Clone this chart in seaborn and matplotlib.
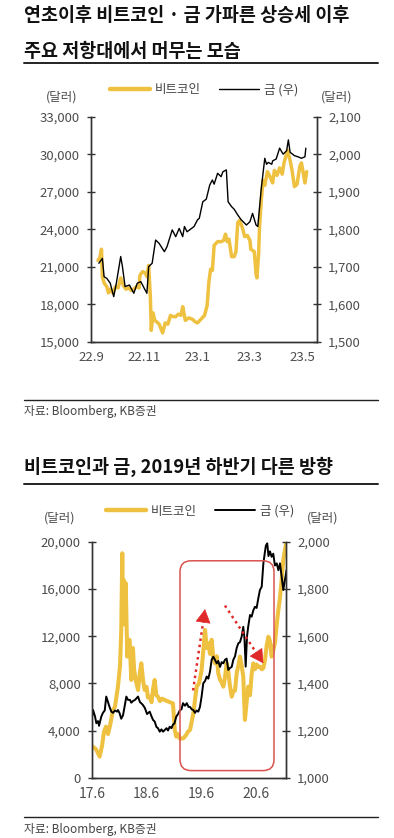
import numpy as np
import matplotlib
matplotlib.use("Agg")
import matplotlib.pyplot as plt
import matplotlib.dates as mdates
import pandas as pd
import seaborn as sns
from matplotlib.lines import Line2D
from matplotlib.patches import FancyBboxPatch, FancyArrowPatch

sns.set_style("white")
plt.rcParams["font.family"] = ["Noto Sans CJK KR", "DejaVu Sans"]

YELLOW = "#EFC140"
GREY = "#4d4d4d"
RED = "#E02A2A"

# ---------------- chart 1 data (days after 2022-09-01) ----------------
top_start = pd.Timestamp("2022-09-01")
top_btc_days = [8, 10, 12, 13, 15, 18, 20, 22, 25, 28, 31, 34, 37, 40, 43, 46, 49, 52, 55,
                56, 59, 62, 64, 66, 68, 69, 71, 73, 75, 78, 82, 85, 88, 91, 94, 97, 100,
                103, 105, 108, 112, 116, 119, 122, 126, 130, 133, 135, 137, 139, 141, 145,
                149, 152, 154, 156, 158, 161, 164, 166, 168, 170, 173, 176, 179, 182, 183,
                187, 189, 190, 192, 193, 195, 197, 199, 202, 205, 208, 210, 213, 216, 219,
                221, 223, 225, 228, 230, 233, 236, 239, 241, 243, 245, 247]
top_btc = [21500, 21700, 22400, 20200, 19700, 19400, 18900, 19200, 18900, 19400, 19300,
           20100, 19500, 19200, 19300, 19100, 19200, 19400, 19300, 20300, 20600, 20500,
           20200, 21100, 18500, 15900, 17300, 16700, 16600, 16400, 15700, 16500, 16400,
           17100, 17000, 17000, 17200, 17100, 17800, 16700, 16900, 16800, 16600, 16500,
           16800, 17100, 17900, 19800, 20800, 20700, 22700, 23000, 23000, 23100, 23600,
           23000, 23200, 21800, 21800, 22200, 24500, 24700, 24200, 23400, 23500, 23100,
           22400, 22200, 20400, 20100, 22100, 24200, 26300, 27900, 27500, 28600, 28200,
           27700, 28700, 28300, 28900, 28400, 29300, 29800, 30300, 29500, 28800, 27400,
           27600, 29000, 29300, 28500, 27700, 28600]

top_gold_days = [9, 13, 15, 18, 22, 26, 29, 34, 36, 39, 44, 49, 53, 57, 61, 64, 66, 70, 74,
                 78, 84, 87, 93, 97, 101, 105, 107, 110, 118, 122, 124, 128, 132, 136, 139,
                 141, 145, 149, 151, 155, 157, 161, 164, 168, 172, 178, 182, 185, 189, 191,
                 195, 199, 201, 203, 207, 208, 212, 216, 220, 224, 226, 228, 233, 237, 241,
                 245, 246]
top_gold = [1709, 1722, 1673, 1669, 1656, 1620, 1656, 1727, 1700, 1647, 1651, 1629, 1656,
            1660, 1642, 1629, 1700, 1709, 1771, 1762, 1740, 1753, 1798, 1780, 1802, 1780,
            1807, 1793, 1807, 1825, 1829, 1873, 1880, 1918, 1931, 1920, 1949, 1940, 1953,
            1958, 1873, 1860, 1853, 1838, 1825, 1811, 1820, 1842, 1811, 1807, 1909, 1989,
            1973, 1978, 1973, 1982, 1987, 2016, 2000, 2009, 2038, 2005, 1996, 1993, 1989,
            1993, 2016]

top_xticks = ["2022-09-01", "2022-11-01", "2023-01-01", "2023-03-01", "2023-05-01"]
top_xlabels = ["22.9", "22.11", "23.1", "23.3", "23.5"]

# ---------------- chart 2 data (days after 2017-06-01) ----------------
bot_start = pd.Timestamp("2017-06-01")
bot_btc_days = [7, 27, 51, 67, 80, 93, 107, 120, 140, 153, 173, 187, 195, 202, 207, 211,
                218, 225, 235, 243, 251, 262, 273, 281, 293, 307, 320, 329, 340, 351, 364,
                373, 385, 397, 407, 418, 429, 440, 453, 467, 485, 500, 520, 540, 552, 562,
                574, 587, 609, 627, 640, 654, 676, 698, 714, 731, 744, 754, 765, 776, 787,
                798, 809, 820, 832, 842, 854, 865, 876, 887, 898, 909, 920, 932, 942, 954,
                965, 976, 987, 998, 1009, 1020, 1032, 1042, 1054, 1065, 1076, 1087, 1098,
                1109, 1120, 1132, 1143, 1154, 1165, 1176, 1187, 1198, 1209, 1220, 1232,
                1243, 1254, 1265, 1276, 1287, 1297]
bot_btc = [2630, 2400, 1780, 2700, 3900, 4330, 3700, 4400, 5740, 6000, 7720, 9500, 12530,
           19040, 14000, 16780, 13000, 16500, 10270, 11700, 11680, 8290, 11000, 9140, 8200,
           7440, 9000, 9700, 8300, 7440, 7700, 6800, 6870, 6400, 7500, 8290, 7000, 6870,
           6500, 6700, 6590, 6500, 6400, 6300, 4050, 3480, 3700, 3300, 3340, 3600, 3900,
           4050, 5460, 7720, 8000, 9140, 11000, 12530, 11000, 11400, 10500, 11700, 10200,
           9700, 10300, 8860, 8300, 8100, 7720, 8500, 9700, 9000, 7800, 6870, 7300, 7400,
           8860, 9500, 10270, 9500, 8570, 4900, 6500, 7720, 7000, 8800, 9700, 9200, 9600,
           9400, 9420, 9200, 9300, 10000, 11200, 11960, 11600, 10270, 10800, 11400, 13000,
           14230, 15300, 16780, 18500, 19320, 20000]

bot_gold_days = [3, 7, 20, 29, 40, 47, 62, 73, 85, 95, 107, 117, 129, 140, 153, 167, 173,
                 183, 195, 207, 217, 229, 240, 253, 262, 273, 287, 307, 320, 330, 340, 353,
                 367, 385, 397, 407, 418, 430, 440, 452, 463, 474, 485, 497, 507, 518, 530,
                 540, 550, 562, 574, 587, 597, 607, 620, 632, 644, 654, 665, 676, 687, 698,
                 709, 720, 731, 742, 754, 765, 776, 787, 798, 809, 820, 832, 842, 854, 865,
                 876, 887, 898, 909, 920, 932, 942, 954, 965, 976, 987, 998, 1009, 1017, 1025,
                 1034, 1042, 1054, 1065, 1076, 1087, 1098, 1109, 1120, 1132, 1143, 1154, 1160,
                 1169, 1177, 1187, 1198, 1209, 1220, 1232, 1243, 1254, 1265, 1276, 1287, 1298]
bot_gold = [1265, 1287, 1260, 1231, 1240, 1220, 1259, 1275, 1285, 1344, 1320, 1300, 1280,
            1275, 1285, 1280, 1287, 1275, 1250, 1265, 1300, 1344, 1330, 1330, 1318, 1325,
            1330, 1344, 1320, 1315, 1308, 1295, 1270, 1280, 1260, 1245, 1238, 1215, 1210,
            1195, 1205, 1195, 1202, 1210, 1200, 1216, 1210, 1225, 1230, 1259, 1270, 1287,
            1290, 1316, 1305, 1316, 1300, 1300, 1290, 1287, 1275, 1285, 1280, 1300, 1344,
            1400, 1410, 1429, 1420, 1450, 1500, 1513, 1500, 1485, 1495, 1470, 1490, 1485,
            1500, 1505, 1457, 1465, 1470, 1499, 1515, 1550, 1570, 1575, 1598, 1640, 1590,
            1471, 1600, 1641, 1690, 1683, 1710, 1725, 1720, 1760, 1796, 1810, 1909, 1960,
            1985, 1994, 1940, 1960, 1937, 1950, 1900, 1909, 1880, 1909, 1853, 1796, 1840,
            1881]

bot_xticks = ["2017-06-01", "2018-06-01", "2019-06-01", "2020-06-01"]
bot_xlabels = ["17.6", "18.6", "19.6", "20.6"]

# highlight box and arrows (day offset, left-axis value)
box_x = [587, 1214]
box_y = [600, 18400]
arrow_up = [(674, 7400), (754, 14300)]
arrow_down = [(887, 14600), (1143, 9700)]


def to_dates(start, days):
    return start + pd.to_timedelta(days, unit="D")


def day_num(start, d):
    return mdates.date2num(start + pd.Timedelta(days=d))


def style_axes(ax, ax2):
    for a in (ax, ax2):
        a.spines["top"].set_visible(False)
        for s in ("left", "right", "bottom"):
            a.spines[s].set_color("#333333")
            a.spines[s].set_linewidth(1.0)
        a.set_xlabel("")
        a.set_ylabel("")
        a.grid(False)
    for a in (ax, ax2):
        a.tick_params(axis="y", direction="inout", length=6, width=1, color="#333333",
                      labelsize=9.5, labelcolor=GREY, pad=5)
    ax.tick_params(axis="x", direction="in", length=5, width=1, color="#333333",
                   labelsize=9.5, labelcolor=GREY, pad=7)


fig = plt.figure(figsize=(3.94, 8.38), dpi=100)

# ---------------- chart 1 ----------------
ax = fig.add_axes([0.231, 0.5923, 0.574, 0.2685])
ax2 = ax.twinx()
sns.lineplot(x=to_dates(top_start, top_btc_days), y=top_btc, ax=ax, color=YELLOW,
             lw=2.5, legend=False)
sns.lineplot(x=to_dates(top_start, top_gold_days), y=top_gold, ax=ax2, color="black",
             lw=1.0, legend=False)
ax.set_xlim(top_start, top_start + pd.Timedelta(days=259))
ax.set_ylim(15000, 33000)
ax.set_yticks(np.arange(15000, 33001, 3000))
ax.set_yticklabels([f"{v:,}" for v in range(15000, 33001, 3000)])
ax2.set_ylim(1500, 2100)
ax2.set_yticks(np.arange(1500, 2101, 100))
ax2.set_yticklabels([f"{v:,}" for v in range(1500, 2101, 100)])
ax.set_xticks(pd.to_datetime(top_xticks))
ax.set_xticklabels(top_xlabels)
style_axes(ax, ax2)
leg_handles = [Line2D([], [], color=YELLOW, lw=3.2), Line2D([], [], color="black", lw=1.0)]
ax2.legend(leg_handles, ["비트코인", "금 (우)"], loc="center",
           bbox_to_anchor=(0.5, 1.12), ncol=2, frameon=False, fontsize=9,
           handlelength=3.2, handletextpad=0.4, columnspacing=1.4, labelcolor="#444444")
ax.text(-0.128, 1.088, "(달러)", transform=ax.transAxes, ha="center", va="center",
        fontsize=9, color=GREY)
ax.text(1.088, 1.088, "(달러)", transform=ax.transAxes, ha="center", va="center",
        fontsize=9, color=GREY)

# ---------------- chart 2 ----------------
bx = fig.add_axes([0.2335, 0.0720, 0.4924, 0.2813])
bx2 = bx.twinx()
sns.lineplot(x=to_dates(bot_start, bot_btc_days), y=bot_btc, ax=bx, color=YELLOW,
             lw=2.9, legend=False)
sns.lineplot(x=to_dates(bot_start, bot_gold_days), y=bot_gold, ax=bx2, color="black",
             lw=1.4, legend=False)
bx.set_xlim(bot_start, bot_start + pd.Timedelta(days=1294))
bx.set_ylim(0, 20000)
bx.set_yticks(np.arange(0, 20001, 4000))
bx.set_yticklabels([f"{v:,}" for v in range(0, 20001, 4000)])
bx2.set_ylim(1000, 2000)
bx2.set_yticks(np.arange(1000, 2001, 200))
bx2.set_yticklabels([f"{v:,}" for v in range(1000, 2001, 200)])
bx.set_xticks(pd.to_datetime(bot_xticks))
bx.set_xticklabels(bot_xlabels)
style_axes(bx, bx2)
bx.tick_params(axis="x", labelsize=10)
leg_handles = [Line2D([], [], color=YELLOW, lw=3.2), Line2D([], [], color="black", lw=1.4)]
bx2.legend(leg_handles, ["비트코인", "금 (우)"], loc="center",
           bbox_to_anchor=(0.557, 1.13), ncol=2, frameon=False, fontsize=9,
           handlelength=3.2, handletextpad=0.4, columnspacing=1.4, labelcolor="#444444")
bx.text(-0.165, 1.10, "(달러)", transform=bx.transAxes, ha="center", va="center",
        fontsize=9, color=GREY)
bx.text(1.19, 1.10, "(달러)", transform=bx.transAxes, ha="center", va="center",
        fontsize=9, color=GREY)

# rounded highlight box, drawn in pixels so the corners stay round
x0, y0 = bx.transData.transform((day_num(bot_start, box_x[0]), box_y[0]))
x1, y1 = bx.transData.transform((day_num(bot_start, box_x[1]), box_y[1]))
box = FancyBboxPatch((x0, y0), x1 - x0, y1 - y0, boxstyle="round,pad=0,rounding_size=11",
                     transform=None, fill=False, edgecolor="#D9534F", lw=1.1, zorder=5)
fig.add_artist(box)

# dotted arrows: dotted shaft plus a solid head, in pixels
for (d0, v0), (d1, v1) in (arrow_up, arrow_down):
    p0 = bx.transData.transform((day_num(bot_start, d0), v0))
    p1 = bx.transData.transform((day_num(bot_start, d1), v1))
    vec = p1 - p0
    unit = vec / np.hypot(*vec)
    shaft_end = p1 - unit * 8
    fig.add_artist(Line2D([p0[0], shaft_end[0]], [p0[1], shaft_end[1]], transform=None,
                          color=RED, lw=1.8, linestyle=(0, (1, 1.5)), zorder=6))
    fig.add_artist(FancyArrowPatch(
        posA=tuple(p1 - unit * 12), posB=tuple(p1), transform=None,
        arrowstyle="-|>,head_length=9,head_width=5", mutation_scale=1,
        color=RED, lw=0.5, shrinkA=0, shrinkB=0, zorder=7))

# ---------------- titles, rules, sources ----------------
fig.text(0.061, 0.981, "연초이후 비트코인 · 금 가파른 상승세 이후", fontsize=13.3,
         fontweight="bold", va="center", ha="left", color="#111111")
fig.text(0.061, 0.939, "주요 저항대에서 머무는 모습", fontsize=13.3,
         fontweight="bold", va="center", ha="left", color="#111111")
fig.text(0.061, 0.443, "비트코인과 금, 2019년 하반기 다른 방향", fontsize=13.3,
         fontweight="bold", va="center", ha="left", color="#111111")
for yy, lw in ((0.925, 1.4), (0.5227, 1.0), (0.4224, 1.4), (0.0251, 1.0)):
    fig.add_artist(Line2D([0.061, 0.959], [yy, yy], transform=fig.transFigure,
                          color="#222222", lw=lw))
for yy in (0.5095, 0.0107):
    fig.text(0.061, yy, "자료: Bloomberg, KB증권", fontsize=8.5, va="center",
             ha="left", color="#444444")

fig.savefig("out.png", dpi=100)
